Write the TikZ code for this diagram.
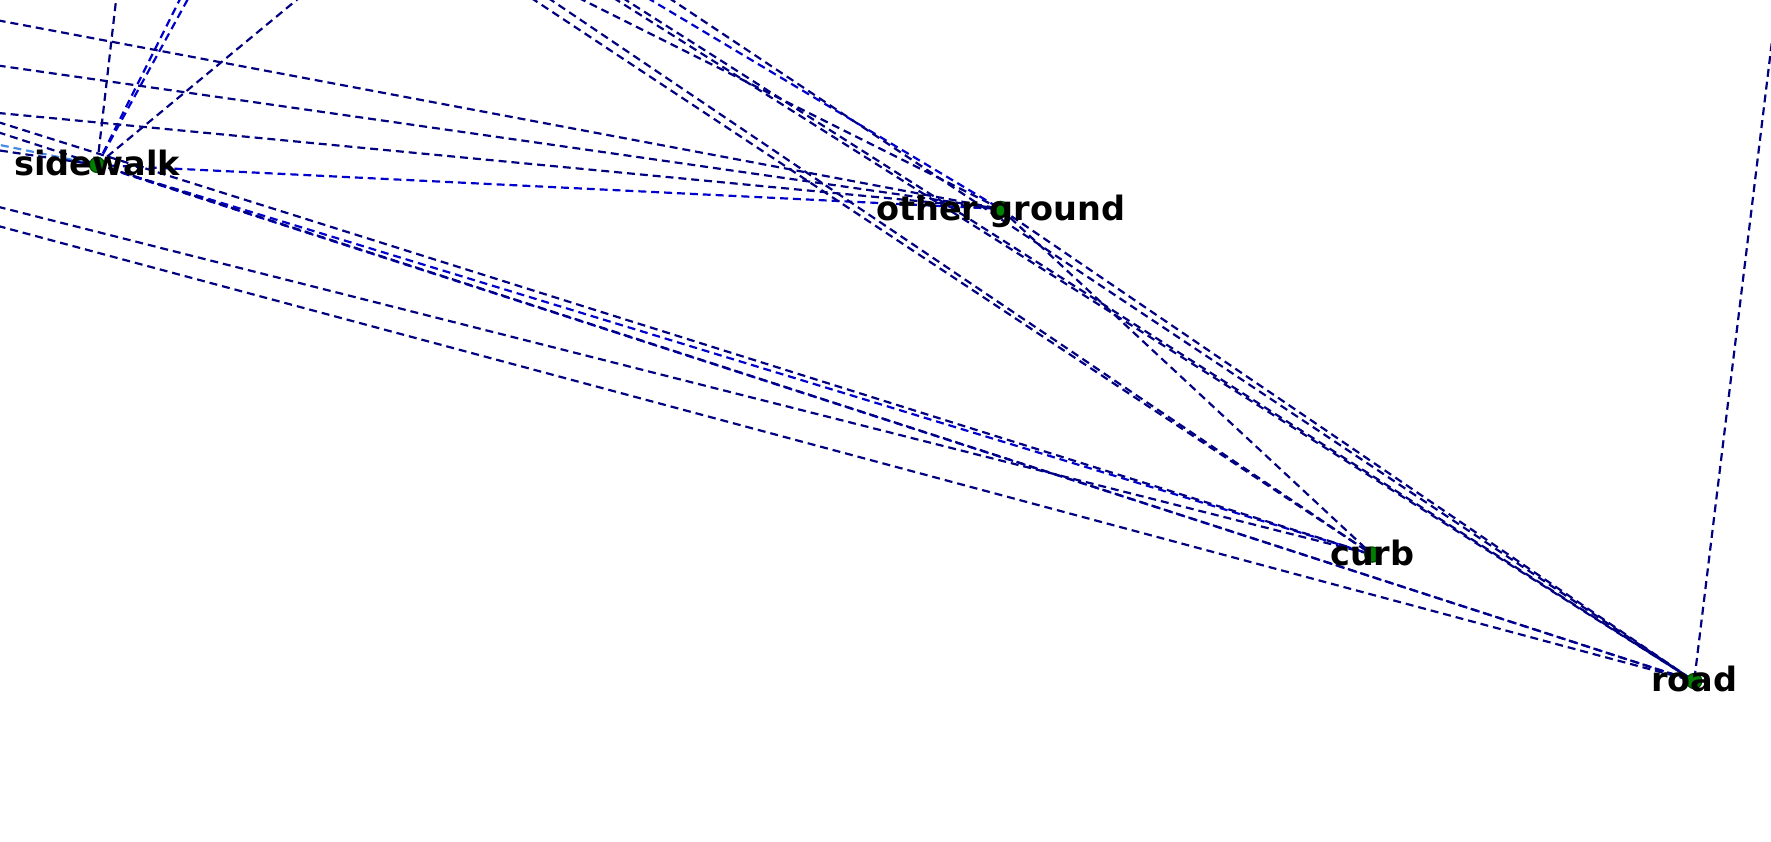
\documentclass[tikz,border=0pt]{standalone}
\usepackage{fontspec}
\setmainfont{DejaVu Sans}
\definecolor{navyc}{RGB}{0,0,128}
\definecolor{mblue}{RGB}{0,0,205}
\definecolor{lblue}{RGB}{70,140,230}
\definecolor{dotg}{RGB}{0,128,0}
\tikzset{
  edg/.style={navyc, line width=0.55pt, dash pattern=on 2pt off 1.25pt},
  edgb/.style={edg, mblue},
  edgl/.style={edg, lblue},
  dotn/.style={circle, fill=dotg, draw=dotg!60!black, line width=0.3pt, minimum size=1.35mm, inner sep=0pt},
  lab/.style={font=\bfseries\fontsize{8.45pt}{10pt}\selectfont, text=black, inner sep=0pt, anchor=center}
}
\begin{document}
\begin{tikzpicture}[x=0.1mm, y=-0.1mm]
\useasboundingbox (0,0) rectangle (1568,745);
% nodes
\coordinate (S) at (86,146);
\coordinate (O) at (886,185);
\coordinate (C) at (1215,491);
\coordinate (R) at (1500,603);
% off-picture ends
\coordinate (t1) at (103,-2);
\coordinate (t2) at (160,-2);
\coordinate (t3) at (167,-2);
\coordinate (t4) at (265,-2);
\coordinate (t5) at (470,-2);
\coordinate (t6) at (485,-2);
\coordinate (t7) at (512,-2);
\coordinate (t8) at (543,-2);
\coordinate (t9) at (551,-2);
\coordinate (t10) at (573,-2);
\coordinate (t11) at (592,-2);
\coordinate (tr) at (1570,27);
\coordinate (l1) at (-2,18);
\coordinate (l2) at (-2,58);
\coordinate (l3) at (-2,100);
\coordinate (l4) at (-2,108);
\coordinate (l5) at (-2,117);
\coordinate (l6) at (-2,128);
\coordinate (l6b) at (-2,133);
\coordinate (l7) at (-2,183);
\coordinate (l8) at (-2,200);
% edges
\draw[edg] (S) -- (t1);
\draw[edgb] (S) -- (t2);
\draw[edgb] (S) -- (t3);
\draw[edg] (S) -- (t4);
\draw[edgb] (S) -- (O);
\draw[edgb] (S) -- (C);
\draw[edgb] (S) -- (R);
\draw[edgl] (S) -- (l6);
\draw[edg] (S) -- (l6b);
\draw[edg] (l1) -- (O);
\draw[edg] (l2) -- (O);
\draw[edg] (l3) -- (O);
\draw[edg] (l4) -- (C);
\draw[edg] (l5) -- (R);
\draw[edg] (l7) -- (C);
\draw[edg] (l8) -- (R);
\draw[edg] (t5) -- (C);
\draw[edg] (t6) -- (C);
\draw[edg] (t7) -- (O);
\draw[edg] (t8) -- (R);
\draw[edg] (t9) -- (R);
\draw[edgb] (t10) -- (O);
\draw[edg] (t11) -- (R);
\draw[edg] (O) -- (R);
\draw[edg] (O) -- (C);
\draw[edg] (tr) -- (R);
% dots
\node[dotn] (nS) at (S) {};
\node[dotn] (nO) at (O) {};
\node[dotn] (nC) at (C) {};
\node[dotn] (nR) at (R) {};
% labels
\node[lab] (lS) at ([yshift=0.2mm]S) {sidewalk};
\node[lab] (lO) at ([yshift=-0.2mm]O) {other ground};
\node[lab] (lC) at ([yshift=0.1mm]C) {curb};
\node[lab] (lR) at ([yshift=0.2mm]R) {road};
\end{tikzpicture}
\end{document}
